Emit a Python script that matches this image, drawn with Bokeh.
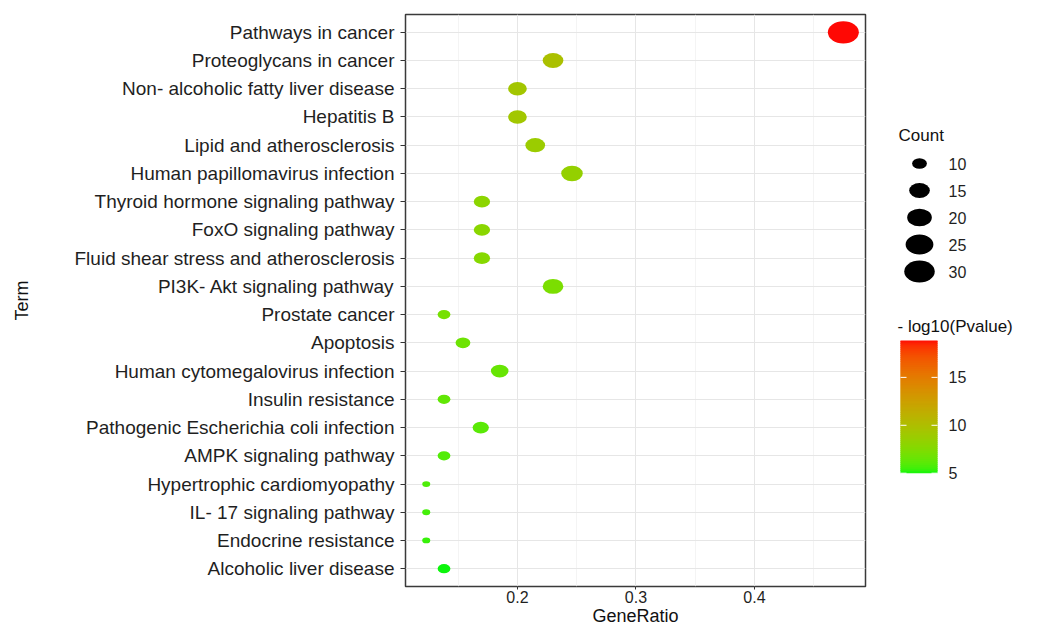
import numpy as np
from bokeh.plotting import figure
from bokeh.models import Range1d, FactorRange, FixedTicker, ColumnDataSource
from bokeh.layouts import row
from bokeh.embed import file_html
from bokeh.resources import INLINE
from bokeh.core.properties import value

terms = [
    "Pathways in cancer",
    "Proteoglycans in cancer",
    "Non- alcoholic fatty liver disease",
    "Hepatitis B",
    "Lipid and atherosclerosis",
    "Human papillomavirus infection",
    "Thyroid hormone signaling pathway",
    "FoxO signaling pathway",
    "Fluid shear stress and atherosclerosis",
    "PI3K- Akt signaling pathway",
    "Prostate cancer",
    "Apoptosis",
    "Human cytomegalovirus infection",
    "Insulin resistance",
    "Pathogenic Escherichia coli infection",
    "AMPK signaling pathway",
    "Hypertrophic cardiomyopathy",
    "IL- 17 signaling pathway",
    "Endocrine resistance",
    "Alcoholic liver disease",
]
gene_ratio = [0.475, 0.230, 0.200, 0.200, 0.215, 0.246, 0.170, 0.170, 0.170, 0.230,
              0.138, 0.154, 0.185, 0.138, 0.169, 0.138, 0.123, 0.123, 0.123, 0.138]
counts = [31, 15, 13, 13, 14, 16, 11, 11, 11, 15, 9, 10, 12, 9, 11, 9, 8, 8, 8, 9]
neglog10p = [18.85, 9.8, 9.3, 9.2, 8.8, 8.4, 8.0, 7.9, 7.7, 7.2,
             7.0, 6.7, 6.5, 6.3, 6.1, 5.9, 5.8, 5.6, 5.4, 5.0]
size_breaks = [10, 15, 20, 25, 30]
color_ticks = [5, 10, 15]
x_ticks = [0.2, 0.3, 0.4]
x_minor = [0.15, 0.25, 0.35, 0.45]

FONT = "Liberation Sans"
W, H = 1043, 628
FRAME_TOP, FRAME_BOT = 14, 586

# ---- colour gradient (Lab interpolation, like ggplot) ----
def _lin(c):
    c = c / 255.0
    return np.where(c <= 0.04045, c / 12.92, ((c + 0.055) / 1.055) ** 2.4)

def _delin(c):
    c = np.where(c <= 0.0031308, 12.92 * c, 1.055 * np.power(np.clip(c, 0, None), 1 / 2.4) - 0.055)
    return np.clip(np.round(c * 255), 0, 255)

WP = np.array([0.95047, 1.0, 1.08883])
M = np.array([[0.4124, 0.3576, 0.1805], [0.2126, 0.7152, 0.0722], [0.0193, 0.1192, 0.9505]])
MI = np.linalg.inv(M)

def rgb2lab(rgb):
    xyz = M @ _lin(np.array(rgb, float)) / WP
    f = np.where(xyz > 0.008856, np.cbrt(xyz), 7.787 * xyz + 16 / 116)
    return np.array([116 * f[1] - 16, 500 * (f[0] - f[1]), 200 * (f[1] - f[2])])

def lab2rgb(lab):
    fy = (lab[0] + 16) / 116
    fx = fy + lab[1] / 500
    fz = fy - lab[2] / 200
    f = np.array([fx, fy, fz])
    xyz = np.where(f ** 3 > 0.008856, f ** 3, (f - 16 / 116) / 7.787) * WP
    return _delin(MI @ xyz)

LOW = rgb2lab((12, 245, 12))
HIGH = rgb2lab((255, 8, 4))
vmin, vmax = min(neglog10p), max(neglog10p)

def colour(v):
    t = (v - vmin) / (vmax - vmin)
    r, g, b = lab2rgb(LOW + (HIGH - LOW) * t)
    return "#%02x%02x%02x" % (int(r), int(g), int(b))

cmin, cmax = min(counts), max(counts)

def dot_w(c):
    return 8 + 23 * np.sqrt((c - cmin) / (cmax - cmin))

src = ColumnDataSource(dict(
    term=terms, x=gene_ratio,
    w=[dot_w(c) for c in counts],
    h=[dot_w(c) * 0.72 for c in counts],
    color=[colour(v) for v in neglog10p],
))

p = figure(frame_width=460, frame_height=FRAME_BOT - FRAME_TOP, output_backend="svg", toolbar_location=None,
           x_range=Range1d(0.1055, 0.4937),
           y_range=FactorRange(*list(reversed(terms)), range_padding=0.13, range_padding_units="absolute"),
           min_border_left=405, min_border_right=13, min_border_top=FRAME_TOP, min_border_bottom=0)
p.ellipse(x="x", y="term", width="w", height="h", width_units="screen", height_units="screen",
          fill_color="color", line_color=None, source=src)

p.background_fill_color = "white"
p.outline_line_color = "#3a3a3a"
p.outline_line_width = 1.5
p.xgrid.grid_line_color = "#E6E6E6"
p.ygrid.grid_line_color = "#E6E6E6"
p.xgrid.minor_grid_line_color = "#EFEFEF"
p.xgrid.minor_grid_line_width = 0.7
p.xaxis.ticker = FixedTicker(ticks=x_ticks, minor_ticks=x_minor)
p.xaxis.minor_tick_line_color = None
p.axis.axis_line_color = None
p.axis.major_tick_line_color = "#333333"
p.axis.major_tick_in = 0
p.axis.major_tick_out = 5
p.xaxis.major_tick_out = 3
p.axis.major_label_text_font = FONT
p.axis.major_label_text_color = "#1f1f1f"
p.axis.axis_label_text_font = FONT
p.axis.axis_label_text_font_style = "normal"
p.axis.axis_label_text_color = "#111111"
p.yaxis.major_label_text_font_size = "19px"
p.xaxis.major_label_text_font_size = "16px"
p.xaxis.axis_label_text_font_size = "18px"
p.yaxis.axis_label_text_font_size = "18px"
p.xaxis.major_label_standoff = 0
p.xaxis.axis_label_standoff = 0
p.yaxis.major_label_standoff = 6
p.yaxis.axis_label_standoff = 40
p.xaxis.axis_label = "GeneRatio"
p.yaxis.axis_label = "Term"

# ---- legends panel (coordinates: x = page px, y = H - page px) ----
LW = W - 878
lg = figure(frame_width=LW, frame_height=FRAME_BOT - FRAME_TOP, output_backend="svg", toolbar_location=None,
            title=None, x_axis_location=None, y_axis_location=None,
            x_range=Range1d(878, W), y_range=Range1d(H - FRAME_BOT, H - FRAME_TOP),
            min_border=0, min_border_top=FRAME_TOP, min_border_bottom=H - FRAME_BOT)
lg.grid.grid_line_color = None
lg.outline_line_color = None

def py(y):
    return H - y

lg.text(x=[898], y=[py(135)], text=["Count"], text_baseline="middle", text_font=value(FONT),
        text_font_size="17px", text_color="#111111")
ly = [py(163 + 27 * i) for i in range(len(size_breaks))]
lg.ellipse(x=[919] * len(size_breaks), y=ly,
           width=[dot_w(b) for b in size_breaks], height=[dot_w(b) * 0.72 for b in size_breaks],
           width_units="screen", height_units="screen", fill_color="black", line_color=None)
lg.text(x=[948] * len(size_breaks), y=ly, text=[str(b) for b in size_breaks], text_baseline="middle",
        text_font=value(FONT), text_font_size="16px", text_color="#1f1f1f")

lg.text(x=[897], y=[py(326)], text=["- log10(Pvalue)"], text_baseline="middle", text_font=value(FONT),
        text_font_size="17px", text_color="#111111")
bar_top, bar_bot = py(340.0), py(472.7)

def bar_y(v):
    return bar_bot + (v - vmin) / (vmax - vmin) * (bar_top - bar_bot)

steps = np.linspace(vmin, vmax, 67)
tops = [min(bar_y(v) + 1.5, bar_top) for v in steps[1:]]
lg.quad(left=900, right=937, top=tops, bottom=[bar_y(v) for v in steps[:-1]],
        fill_color=[colour((a + b) / 2) for a, b in zip(steps[:-1], steps[1:])], line_color=None)
tick_y = [bar_y(t) for t in color_ticks]
n = len(color_ticks)
lg.segment(x0=[900] * n, x1=[906] * n, y0=tick_y, y1=tick_y, line_color="white", line_width=1)
lg.segment(x0=[931] * n, x1=[937] * n, y0=tick_y, y1=tick_y, line_color="white", line_width=1)
lg.text(x=[948] * n, y=tick_y, text=[str(t) for t in color_ticks], text_baseline="middle",
        text_font=value(FONT), text_font_size="16px", text_color="#1f1f1f")

layout = row(p, lg)
open("out.html", "w").write(file_html(layout, INLINE))
